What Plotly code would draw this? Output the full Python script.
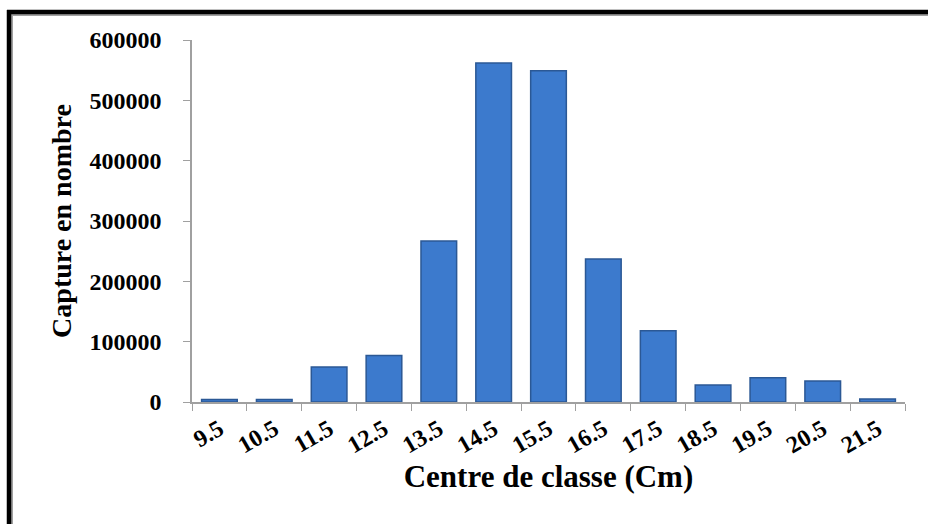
import plotly.graph_objects as go

categories = ["9.5", "10.5", "11.5", "12.5", "13.5", "14.5", "15.5",
              "16.5", "17.5", "18.5", "19.5", "20.5", "21.5"]
captures = [4000, 4000, 58000, 77000, 267000, 562000, 549000,
            237000, 118000, 28000, 40000, 35000, 5000]
y_ticks = [0, 100000, 200000, 300000, 400000, 500000, 600000]

FONT = "Liberation Serif"

fig = go.Figure()
fig.add_trace(go.Bar(
    x=categories, y=captures,
    marker=dict(color="#3c7acd", line=dict(color="#2b5895", width=1.5)),
    width=0.65,
))

L, R, T, B = 192, 23, 40, 122
W, H = 928, 524
pw, ph = W - L - R, H - T - B

def px_x(x):
    return (x - L) / pw

def px_y(y):
    return (H - B - y) / ph

fig.update_layout(
    width=W, height=H,
    margin=dict(l=L, r=R, t=T, b=B),
    paper_bgcolor="white", plot_bgcolor="white",
    showlegend=False,
    font=dict(family=FONT, color="black"),
    xaxis=dict(
        type="category",
        tickangle=-30,
        tickfont=dict(family=FONT, size=24, color="black", weight="bold"),
        showline=True, linecolor="#a0a0a0", linewidth=1.5,
        ticks="outside", ticklen=7, tickcolor="#a0a0a0",
        tickson="boundaries",
        ticklabelstandoff=2,
        showgrid=False,
        title=dict(text="<b>Centre de classe (Cm)</b>",
                   font=dict(family=FONT, size=31, color="black"),
                   standoff=8),
    ),
    yaxis=dict(
        range=[0, 600000],
        tickvals=y_ticks,
        tickformat="d",
        tickfont=dict(family=FONT, size=24, color="black", weight="bold"),
        showline=True, linecolor="#a0a0a0", linewidth=1.5,
        ticks="outside", ticklen=7, tickcolor="#a0a0a0",
        ticklabelstandoff=17,
        showgrid=False, zeroline=False,
        title=dict(text="<b>Capture en nombre</b>",
                   font=dict(family=FONT, size=28, color="black"),
                   standoff=10),
    ),
    shapes=[
        dict(type="line", xref="paper", yref="paper",
             x0=px_x(9), x1=px_x(940), y0=px_y(15), y1=px_y(15),
             line=dict(color="#a0a0a0", width=2)),
        dict(type="line", xref="paper", yref="paper",
             x0=px_x(12), x1=px_x(12), y0=px_y(12), y1=px_y(540),
             line=dict(color="#a0a0a0", width=2)),
        dict(type="line", xref="paper", yref="paper",
             x0=px_x(7), x1=px_x(940), y0=px_y(12), y1=px_y(12),
             line=dict(color="black", width=4.5)),
        dict(type="line", xref="paper", yref="paper",
             x0=px_x(9), x1=px_x(9), y0=px_y(10), y1=px_y(540),
             line=dict(color="black", width=4.5)),
    ],
)

fig.write_html("out.html")
